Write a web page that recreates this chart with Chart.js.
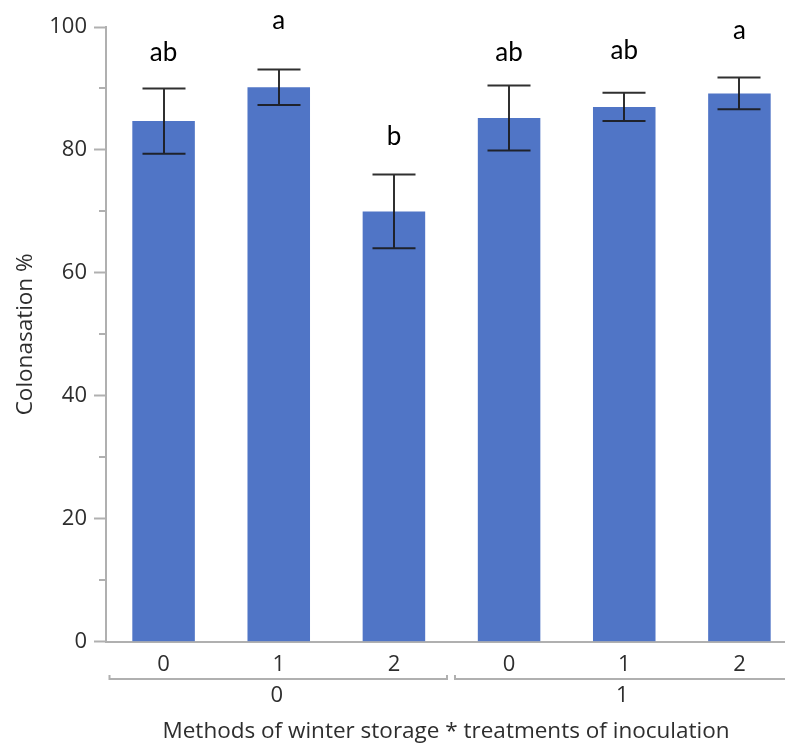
<!DOCTYPE html>
<html>
<head>
<meta charset="utf-8">
<script src="https://cdn.jsdelivr.net/npm/chart.js@4/dist/chart.umd.min.js"></script>
<style>
  html, body { margin: 0; padding: 0; background: #fff; overflow: hidden; }
  #wrap { position: relative; width: 797px; height: 743px; }
</style>
</head>
<body>
<div id="wrap"><canvas id="c"></canvas></div>
<script>
// Treatment of inoculation (inner categories) and storage method (outer groups)
const treatments = ['0', '1', '2', '0', '1', '2'];
const storageGroups = ['0', '1'];
const groupSize = 3;

// Mean colonisation (%) and the half-length of each error bar
const colonisation = [84.7, 90.2, 70.0, 85.2, 87.0, 89.2];
const errorHalf = [5.3, 2.9, 6.0, 5.3, 2.3, 2.6];

// Significance letters above each bar
const sigLetters = ['ab', 'a', 'b', 'ab', 'ab', 'a'];

const yTitle = 'Colonasation %';
const xTitle = 'Methods of winter storage * treatments of inoculation';

const AXIS_GREY = '#b0b0b0';
const TEXT = '#2e2e2e';
const UI_FONT = '"Open Sans", "Noto Sans", sans-serif';

// Error bars with caps
const errorBars = {
  id: 'errorBars',
  afterDatasetsDraw(chart, args, opts) {
    const { ctx } = chart;
    const y = chart.scales.y;
    const meta = chart.getDatasetMeta(0);
    ctx.save();
    ctx.strokeStyle = opts.color;
    ctx.lineWidth = opts.width;
    meta.data.forEach((bar, i) => {
      const top = y.getPixelForValue(colonisation[i] + errorHalf[i]);
      const bot = y.getPixelForValue(colonisation[i] - errorHalf[i]);
      const cx = Math.round(bar.x);
      ctx.beginPath();
      ctx.moveTo(cx, top); ctx.lineTo(cx, bot);
      ctx.moveTo(cx - opts.cap / 2, top); ctx.lineTo(cx + opts.cap / 2, top);
      ctx.moveTo(cx - opts.cap / 2, bot); ctx.lineTo(cx + opts.cap / 2, bot);
      ctx.stroke();
    });
    ctx.restore();
  }
};

// Letters above the error bars
const letterLabels = {
  id: 'letterLabels',
  afterDatasetsDraw(chart, args, opts) {
    const { ctx } = chart;
    const y = chart.scales.y;
    const meta = chart.getDatasetMeta(0);
    ctx.save();
    ctx.font = opts.font;
    ctx.fillStyle = opts.color;
    ctx.textAlign = 'center';
    ctx.textBaseline = 'alphabetic';
    meta.data.forEach((bar, i) => {
      const top = y.getPixelForValue(colonisation[i] + errorHalf[i]);
      ctx.fillText(sigLetters[i], bar.x, top - opts.gaps[i]);
    });
    ctx.restore();
  }
};

// Minor ticks, group brackets, group labels and axis titles
const axisExtras = {
  id: 'axisExtras',
  afterDraw(chart) {
    const { ctx, chartArea } = chart;
    const x = chart.scales.x;
    const y = chart.scales.y;
    ctx.save();
    // minor ticks on the value axis
    ctx.strokeStyle = AXIS_GREY;
    ctx.lineWidth = 2;
    ctx.beginPath();
    for (let v = 10; v < 100; v += 20) {
      const py = Math.round(y.getPixelForValue(v));
      ctx.moveTo(chartArea.left - 7, py);
      ctx.lineTo(chartArea.left, py);
    }
    ctx.stroke();

    // group brackets
    const catW = (x.right - x.left) / treatments.length;
    const by = 679;
    storageGroups.forEach((g, gi) => {
      const x0 = x.left + gi * groupSize * catW + 3.5;
      const x1 = x.left + (gi + 1) * groupSize * catW - 4.5;
      ctx.beginPath();
      ctx.moveTo(x0, by - 4); ctx.lineTo(x0, by); ctx.lineTo(x1, by); ctx.lineTo(x1, by - 4);
      ctx.stroke();
      const mid = x.getPixelForValue(gi * groupSize + 1);
      ctx.fillStyle = TEXT;
      ctx.font = '22px ' + UI_FONT;
      ctx.textAlign = 'center';
      ctx.textBaseline = 'middle';
      ctx.fillText(g, mid - 2, 696);
    });

    // axis titles
    ctx.fillStyle = TEXT;
    ctx.font = '22.5px ' + UI_FONT;
    ctx.textAlign = 'center';
    ctx.textBaseline = 'alphabetic';
    ctx.fillText(xTitle, 446, 738);

    ctx.translate(32, (chartArea.top + chartArea.bottom) / 2);
    ctx.rotate(-Math.PI / 2);
    ctx.fillText(yTitle, 0, 0);
    ctx.restore();
  }
};

new Chart(document.getElementById('c'), {
  type: 'bar',
  data: {
    labels: treatments,
    datasets: [{
      data: colonisation,
      backgroundColor: '#5075c6',
      borderWidth: 0,
      barPercentage: 0.543,
      categoryPercentage: 1.0
    }]
  },
  options: {
    responsive: true,
    maintainAspectRatio: false,
    animation: false,
    devicePixelRatio: 1,
    layout: { padding: { top: 27, left: 0, right: 0, bottom: 0 } },
    plugins: {
      legend: { display: false },
      tooltip: { enabled: false },
      errorBars: { color: 'rgba(25,25,25,0.9)', width: 2, cap: 43 },
      letterLabels: {
        font: '26px Lato, "Open Sans", sans-serif',
        color: '#000',
        gaps: [27, 40, 30, 24, 34, 38]
      }
    },
    scales: {
      x: {
        offset: true,
        grid: { display: false },
        border: { display: true, color: AXIS_GREY, width: 2 },
        ticks: { color: TEXT, font: { family: UI_FONT, size: 22 }, padding: 2, maxRotation: 0 },
        afterFit(scale) { scale.height = 101.3; }
      },
      y: {
        min: 0,
        max: 100,
        ticks: { stepSize: 20, color: TEXT, font: { family: UI_FONT, size: 22 }, padding: 7 },
        grid: { drawOnChartArea: false, drawTicks: true, tickLength: 12, tickWidth: 2, tickColor: AXIS_GREY },
        border: { display: true, color: AXIS_GREY, width: 2 },
        afterFit(scale) { scale.width = 106; }
      }
    }
  },
  plugins: [errorBars, letterLabels, axisExtras]
});
</script>
</body>
</html>
